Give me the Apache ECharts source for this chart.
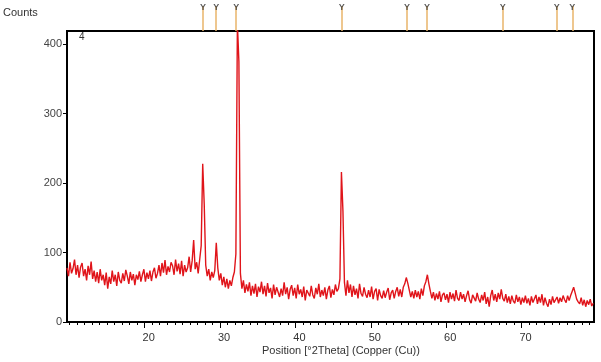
<!DOCTYPE html>
<html>
<head>
<meta charset="utf-8">
<script src="https://cdn.jsdelivr.net/npm/echarts@6/dist/echarts.min.js"></script>
<style>
  body { margin: 0; background: #fff; }
  #chart { width: 601px; height: 362px; }
</style>
</head>
<body>
<div id="chart"></div>
<script>
// scan: first angle and step in degrees 2Theta
const startAngle = 9.7;
const stepAngle = 0.2;

const counts = [
    78, 66, 86, 70, 77, 90, 68, 82, 64, 79,
    85, 66, 76, 60, 81, 68, 87, 62, 74, 58,
    72, 56, 76, 60, 68, 53, 71, 48, 65, 55,
    74, 58, 68, 52, 72, 60, 56, 70, 59, 75,
    66, 55, 72, 60, 69, 53, 68, 61, 73, 58,
    68, 76, 58, 71, 62, 74, 59, 72, 78, 63,
    70, 82, 66, 85, 71, 89, 68, 80, 72, 86,
    81, 68, 90, 73, 84, 69, 88, 66, 82, 72,
    78, 94, 72, 88, 118, 76, 86, 70, 90, 110,
    228, 170, 82, 66, 76, 60, 72, 64, 74, 114,
    78, 60, 70, 53, 65, 50, 62, 48, 60, 52,
    64, 72, 98, 430, 375, 70, 48, 60, 42, 54,
    44, 57, 38, 52, 41, 55, 36, 51, 43, 58,
    40, 52, 37, 56, 42, 49, 34, 54, 39, 50,
    52, 36, 48, 38, 57, 40, 50, 33, 47, 53,
    38, 49, 34, 54, 40, 47, 36, 51, 31, 46,
    48, 37, 52, 39, 34, 49, 40, 55, 36, 46,
    38, 50, 33, 46, 52, 35, 47, 39, 54, 44,
    48, 62, 216, 160, 57, 38, 60, 42, 54, 36,
    52, 39, 48, 34, 55, 41, 37, 50, 40, 35,
    46, 36, 51, 33, 44, 48, 31, 47, 38, 34,
    45, 35, 43, 49, 32, 42, 46, 34, 44, 50,
    37, 47, 36, 50, 55, 64, 56, 46, 36, 44,
    34, 46, 36, 44, 33, 48, 38, 52, 58, 68,
    55, 44, 34, 43, 31, 41, 33, 44, 29, 39,
    42, 32, 40, 28, 43, 33, 41, 30, 46, 34,
    31, 43, 33, 40, 29, 38, 45, 32, 27, 39,
    40, 30, 42, 33, 28, 39, 31, 43, 26, 36,
    22, 38, 46, 31, 40, 29, 42, 33, 47, 34,
    30, 40, 28, 37, 26, 38, 30, 27, 39, 29,
    36, 25, 35, 28, 38, 27, 34, 24, 37, 28,
    29, 39, 26, 36, 28, 40, 24, 35, 27, 22,
    33, 25, 37, 28, 26, 36, 27, 35, 29, 38,
    32, 28, 38, 31, 38, 44, 50, 42, 33, 29,
    26, 35, 24, 32, 22, 31, 25, 33, 23, 27
];

// reference peak markers above the plot
const refPeaks = [27.73, 29.49, 32.14, 46.15, 54.8, 57.45, 67.5, 74.67, 76.73];

const xMin = 9.7;
const xMax = 79.6;
const xLabels = [20, 30, 40, 50, 60, 70];
const xMinor = [10, 11, 12, 13, 14, 15, 16, 17, 18, 19, 21, 22, 23, 24, 25, 26, 27, 28, 29,
    31, 32, 33, 34, 35, 36, 37, 38, 39, 41, 42, 43, 44, 45, 46, 47, 48, 49,
    51, 52, 53, 54, 55, 56, 57, 58, 59, 61, 62, 63, 64, 65, 66, 67, 68, 69,
    71, 72, 73, 74, 75, 76, 77, 78, 79];
const yMax = 419;

const font = 'Liberation Sans, Arial, sans-serif';
const pattern = counts.map((c, i) => [startAngle + i * stepAngle, c]);

const chart = echarts.init(document.getElementById('chart'));
chart.setOption({
    animation: false,
    grid: [
        { left: 67, right: 7, top: 31, bottom: 40, show: true, borderColor: '#000', borderWidth: 2 },
        { left: 67, right: 7, top: 6, height: 25 }
    ],
    xAxis: [
        {
            type: 'value', gridIndex: 0, min: xMin, max: xMax,
            axisLine: { show: false },
            splitLine: { show: false },
            axisTick: { show: true, length: 6, customValues: xLabels, lineStyle: { color: '#000' } },
            axisLabel: {
                customValues: xLabels, color: '#333', fontSize: 11, fontFamily: font,
                margin: 10, padding: [0, 0, 0, 8]
            }
        },
        {
            type: 'value', gridIndex: 0, min: xMin, max: xMax, position: 'bottom',
            axisLine: { show: false },
            splitLine: { show: false },
            axisTick: { show: true, length: 3, customValues: xMinor, lineStyle: { color: '#000' } },
            axisLabel: { show: false }
        },
        { type: 'value', gridIndex: 1, min: xMin, max: xMax, show: false }
    ],
    yAxis: [
        {
            type: 'value', gridIndex: 0, min: 0, max: yMax, interval: 100,
            axisLine: { show: false },
            splitLine: { show: false },
            axisTick: { show: true, length: 4, lineStyle: { color: '#000' } },
            axisLabel: { color: '#444', fontSize: 11, fontFamily: font, margin: 5, showMaxLabel: false }
        },
        { type: 'value', gridIndex: 1, min: 0, max: 1, show: false }
    ],
    series: [
        {
            type: 'line',
            xAxisIndex: 0, yAxisIndex: 0,
            data: pattern,
            showSymbol: false,
            lineStyle: { color: '#e0141a', width: 1.4 },
            clip: true
        },
        {
            type: 'scatter',
            xAxisIndex: 2, yAxisIndex: 1,
            data: refPeaks.map(v => [v, 0.95]),
            symbolSize: 1,
            itemStyle: { color: 'rgba(0,0,0,0)' },
            label: {
                show: true, position: 'inside', formatter: 'Y',
                fontSize: 9, fontWeight: 'bold', color: '#333', fontFamily: font
            },
            markLine: {
                silent: true,
                symbol: ['none', 'none'],
                label: { show: false },
                lineStyle: { color: '#e9b56a', width: 1.5, type: 'solid' },
                data: refPeaks.map(v => ({ xAxis: v }))
            },
            z: 5
        }
    ],
    graphic: [
        { type: 'text', left: 3, top: 7, style: { text: 'Counts', fontSize: 11, fontFamily: font, fill: '#333' } },
        { type: 'text', left: 79, top: 32, style: { text: '4', fontSize: 10, fontFamily: font, fill: '#333' } },
        { type: 'text', left: 262, top: 345, style: { text: 'Position [°2Theta] (Copper (Cu))', fontSize: 11, fontFamily: font, fill: '#333' } }
    ]
});
</script>
</body>
</html>
